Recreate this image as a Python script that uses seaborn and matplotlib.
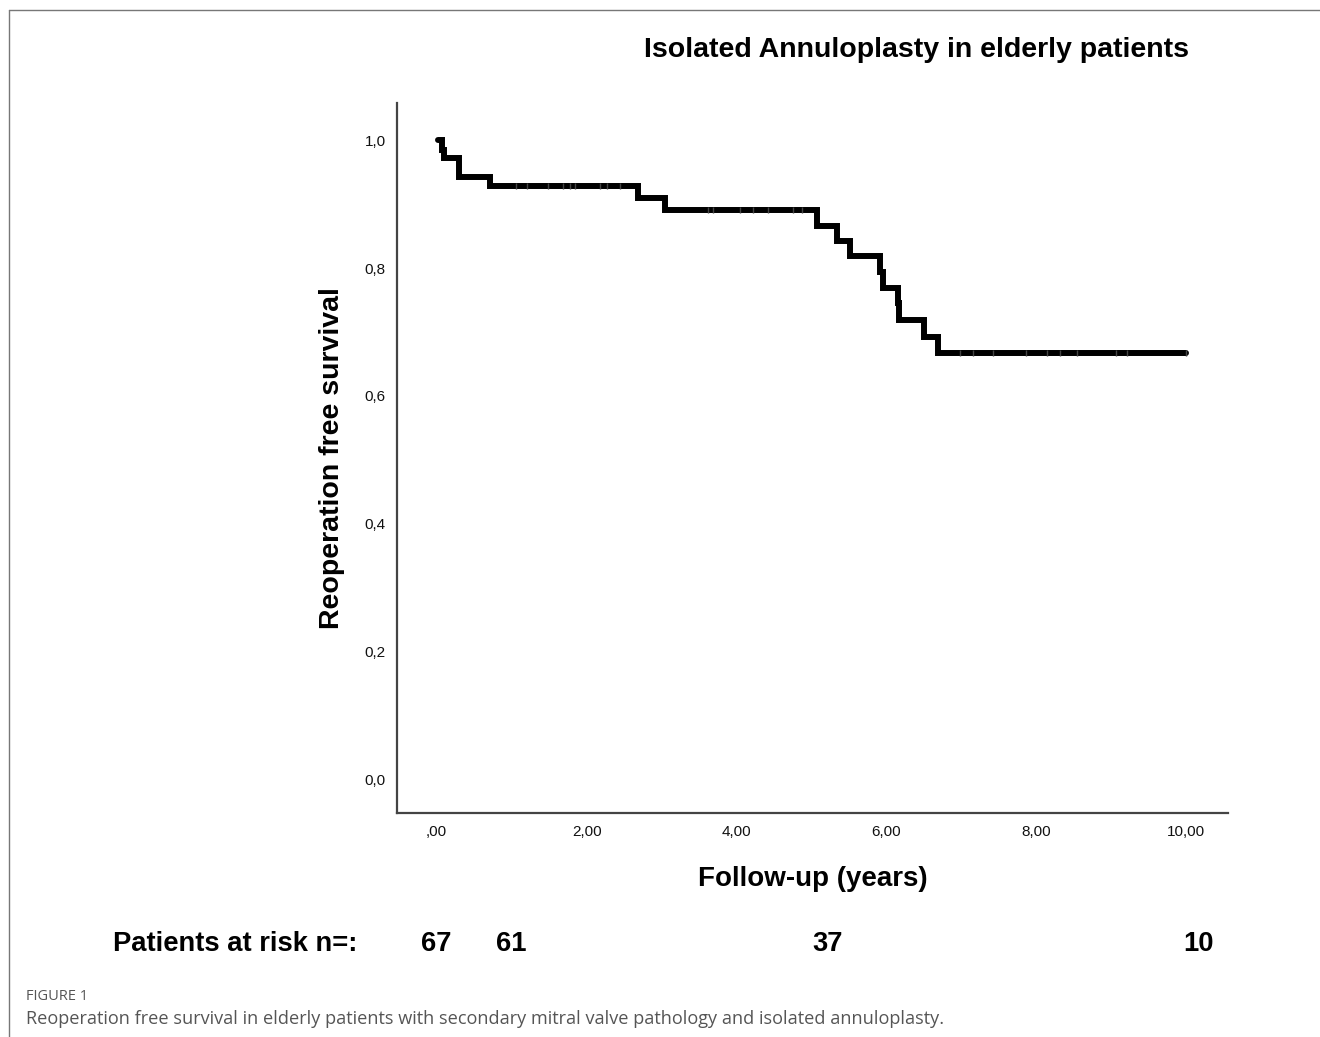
import numpy as np
import pandas as pd
import matplotlib
matplotlib.use("Agg")
import matplotlib.pyplot as plt
import matplotlib.transforms as mtransforms
import seaborn as sns
from matplotlib.lines import Line2D

# ---------------- data ----------------
event_times = [0.02, 0.07, 0.10, 0.30, 0.71, 2.68, 3.04, 5.07, 5.34, 5.51, 5.91, 5.96, 6.15, 6.17, 6.50, 6.69, 10.0]
survival    = [1.000, 0.985, 0.972, 0.943, 0.929, 0.910, 0.891, 0.866, 0.843, 0.819, 0.794, 0.768, 0.745, 0.719, 0.692, 0.667, 0.667]
censor_times = [1.06, 1.20, 1.49, 1.69, 1.78, 1.84, 2.18, 2.27, 2.45,
                3.62, 3.69, 4.05, 4.22, 4.42, 4.76, 4.87,
                6.98, 7.16, 7.43, 7.87, 8.14, 8.32, 8.54, 9.07, 9.21, 10.0]
x_ticks = [0, 2, 4, 6, 8, 10]
x_tick_labels = [",00", "2,00", "4,00", "6,00", "8,00", "10,00"]
y_ticks = [0.0, 0.2, 0.4, 0.6, 0.8, 1.0]
y_tick_labels = ["0,0", "0,2", "0,4", "0,6", "0,8", "1,0"]
risk_times = [0.0, 1.0, 5.22, 10.17]
risk_counts = ["67", "61", "37", "10"]

title = "Isolated Annuloplasty in elderly patients"
x_label = "Follow-up (years)"
y_label = "Reoperation free survival"
risk_label = "Patients at risk n=:"
fig_label = "FIGURE 1"
caption = "Reoperation free survival in elderly patients with secondary mitral valve pathology and isolated annuloplasty."

# ---------------- plot ----------------
sns.set_theme(style="white")
plt.rcParams['font.family'] = ['Liberation Sans', 'DejaVu Sans']

W, H = 1320, 1037
fig = plt.figure(figsize=(13.2, 10.37), dpi=100)
ax = fig.add_axes([397 / W, 1 - 813 / H, (1228 - 397) / W, (813 - 103) / H])

df = pd.DataFrame({"t": event_times, "s": survival})
sns.lineplot(data=df, x="t", y="s", ax=ax, color="black", linewidth=4.3,
             drawstyle="steps-post", estimator=None, sort=False,
             solid_joinstyle="miter")

idx = np.searchsorted(np.array(event_times), np.array(censor_times), side="right") - 1
cens_df = pd.DataFrame({"t": censor_times, "s": np.array(survival)[idx]})
sns.scatterplot(data=cens_df, x="t", y="s", ax=ax, marker="|", s=14,
                color="#444444", linewidth=1.0, zorder=3)

ax.set_xlim(-0.53, 10.56)
ax.set_ylim(-0.052, 1.058)
ax.set_xticks(x_ticks)
ax.set_xticklabels(x_tick_labels)
ax.set_yticks(y_ticks)
ax.set_yticklabels(y_tick_labels)
ax.tick_params(axis="both", length=0, labelsize=11, colors="#111111")
ax.tick_params(axis="x", pad=9)
ax.tick_params(axis="y", pad=8)
for side in ["top", "right"]:
    ax.spines[side].set_visible(False)
for side in ["left", "bottom"]:
    ax.spines[side].set_color("#444444")
    ax.spines[side].set_linewidth(1.6)

ax.set_xlabel("")
ax.set_ylabel("")
fig.text(813 / W, 1 - 879 / H, x_label, fontsize=20, fontweight="bold",
         ha="center", va="center", color="black")
fig.text(332 / W, 1 - 458 / H, y_label, fontsize=20.5, fontweight="bold",
         ha="center", va="center", rotation=90, color="black")
fig.text(917 / W, 1 - 50 / H, title, fontsize=20.5, fontweight="bold",
         ha="center", va="center", color="black")

# patients at risk
fig.text(113 / W, 1 - 944 / H, risk_label, fontsize=19.7, fontweight="bold",
         ha="left", va="center", color="black")
risk_tr = mtransforms.blended_transform_factory(ax.transData, fig.transFigure)
for t, c in zip(risk_times, risk_counts):
    ax.text(t, 1 - 944 / H, c, transform=risk_tr, fontsize=19.7,
            fontweight="bold", ha="center", va="center", color="black")

# caption
fig.text(26 / W, 1 - 996 / H, fig_label, fontsize=10.5, color="#555555",
         family=["Open Sans", "DejaVu Sans"], ha="left", va="center")
fig.text(26 / W, 1 - 1019 / H, caption, fontsize=13.1, color="#555555",
         family=["Open Sans", "DejaVu Sans"], ha="left", va="center")

# frame lines
fig.add_artist(Line2D([9 / W, 9 / W], [0, 1 - 10 / H], color="#777777", lw=1.0))
fig.add_artist(Line2D([9 / W, 1], [1 - 10 / H, 1 - 10 / H], color="#777777", lw=1.0))

fig.savefig("out.png", dpi=100)
